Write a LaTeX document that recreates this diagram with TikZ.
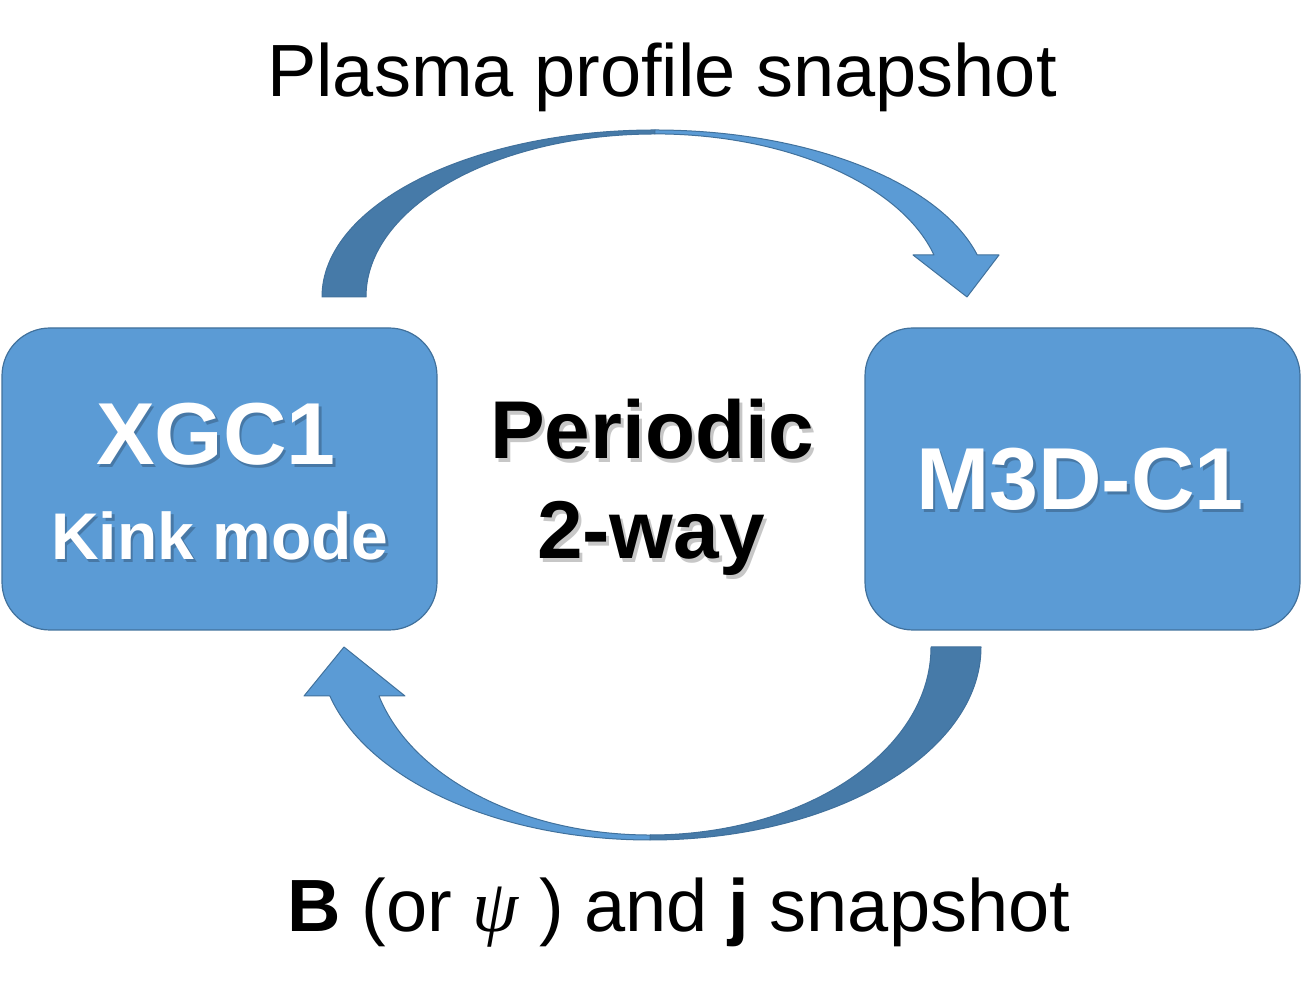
\documentclass[tikz,border=0pt]{standalone}
\usepackage{fontspec}
\setmainfont{Liberation Sans}
\newfontfamily\greekfont{Liberation Serif}
\usetikzlibrary{positioning}
\definecolor{boxblue}{HTML}{5B9BD5}
\definecolor{edgeblue}{HTML}{41719C}
\definecolor{backblue}{HTML}{467AA8}

\begin{document}
\begin{tikzpicture}[x=1pt,y=1pt,
        box/.style={draw=edgeblue,fill=boxblue,line width=1.2pt,rounded corners=48pt,minimum width=435pt,minimum height=302pt},
        front/.style={draw=edgeblue,fill=boxblue,line width=1pt,line join=round},
        back/.style={draw=edgeblue,fill=backblue,line width=1pt,line join=round},
        caption/.style={inner sep=0pt,anchor=base,font=\fontsize{74}{88}\selectfont},
        boxtext/.style={inner sep=0pt,anchor=base,text=white,font=\fontsize{#1}{#1}\selectfont\bfseries},
        midtext/.style={inner sep=0pt,anchor=base,font=\fontsize{82}{90}\selectfont\bfseries},
        shade/.style={text=black,text opacity=0.22}]
        \useasboundingbox (0,0) rectangle (1316,995);
        % the two codes
        \node [box] (xgc) at (219.5,516) {};
        \node [box] (m3d) at (1082.5,516) {};
        % top arrow: back half, then front half with head
        \draw [back] (322,698) arc [start angle=180,end angle=90,x radius=333,y radius=167]
                -- (655,861) arc [start angle=90,end angle=180,x radius=289,y radius=163] -- cycle;
        \draw [front] (655,865) arc [start angle=90,end angle=14.6,x radius=333,y radius=167]
                -- (999,740) -- (967,698) -- (913,740) -- (934,740)
                arc [start angle=14.9,end angle=90,x radius=289,y radius=163] -- cycle;
        % bottom arrow
        \draw [back] (981,348) arc [start angle=0,end angle=-90,x radius=331,y radius=193]
                -- (650,160) arc [start angle=-90,end angle=0,x radius=281,y radius=188] -- cycle;
        \draw [front] (650,155) arc [start angle=-90,end angle=-165.3,x radius=331,y radius=193]
                -- (304,299) -- (344,348) -- (405,299) -- (379,299)
                arc [start angle=-164.9,end angle=-90,x radius=281,y radius=188] -- cycle;
        % labels
        \node [caption] (top) at (662,898) {Plasma profile snapshot};
        \node [caption] (bottom) at (679,63) {\textbf{B} (or {\greekfont\itshape ψ} ) and \textbf{j} snapshot};
        \node [boxtext=88,shade] (xgcsh) at (218.5,527.5) {XGC1};
        \node [boxtext=88] (xgclabel) at (216,530) {XGC1};
        \node [boxtext=66,shade] (kinksh) at (222.5,432.5) {Kink mode};
        \node [boxtext=66] (kinklabel) at (220,435) {Kink mode};
        \node [boxtext=88,shade] (m3dsh) at (1082.5,482.5) {M3D-C1};
        \node [boxtext=88] (m3dlabel) at (1080,485) {M3D-C1};
        \node [midtext,shade] (persh) at (655,532.5) {Periodic};
        \node [midtext] (perlabel) at (652,536) {Periodic};
        \node [midtext,shade] (waysh) at (654,432.5) {2-way};
        \node [midtext] (waylabel) at (651,436) {2-way};
\end{tikzpicture}
\end{document}
